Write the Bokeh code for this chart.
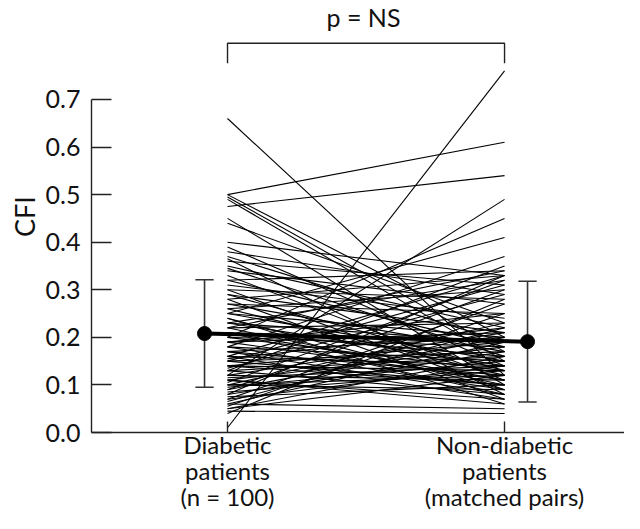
from bokeh.plotting import figure
from bokeh.models import FixedTicker, Range1d, CustomJSTickFormatter
from bokeh.embed import file_html
from bokeh.resources import INLINE
from bokeh.core.properties import value

# ---- data ----
groups = ["Diabetic\npatients\n(n = 100)", "Non-diabetic\npatients\n(matched pairs)"]
group_x = [0, 1]
y_ticks = [0.0, 0.1, 0.2, 0.3, 0.4, 0.5, 0.6, 0.7]

diabetic = [0.66, 0.50, 0.50, 0.495, 0.49, 0.475, 0.45, 0.44, 0.40, 0.39,
            0.38, 0.37, 0.365, 0.36, 0.35, 0.345, 0.34, 0.33, 0.32, 0.32,
            0.31, 0.30, 0.30, 0.29, 0.29, 0.28, 0.28, 0.27, 0.27, 0.26,
            0.26, 0.25, 0.25, 0.25, 0.24, 0.24, 0.23, 0.23, 0.23, 0.22,
            0.22, 0.22, 0.21, 0.21, 0.21, 0.20, 0.20, 0.20, 0.19, 0.19,
            0.19, 0.18, 0.18, 0.18, 0.17, 0.17, 0.17, 0.16, 0.16, 0.16,
            0.155, 0.15, 0.15, 0.15, 0.14, 0.14, 0.14, 0.135, 0.13, 0.13,
            0.13, 0.12, 0.12, 0.12, 0.115, 0.11, 0.11, 0.11, 0.105, 0.10,
            0.10, 0.10, 0.095, 0.09, 0.09, 0.085, 0.08, 0.08, 0.075, 0.07,
            0.07, 0.065, 0.06, 0.06, 0.055, 0.05, 0.05, 0.045, 0.04, 0.01]
non_diabetic = [0.12, 0.61, 0.20, 0.17, 0.15, 0.54, 0.10, 0.23, 0.33, 0.14,
                0.29, 0.19, 0.08, 0.31, 0.22, 0.16, 0.27, 0.11, 0.34, 0.18,
                0.24, 0.09, 0.28, 0.13, 0.21, 0.33, 0.07, 0.17, 0.25, 0.12,
                0.30, 0.41, 0.15, 0.20, 0.06, 0.09, 0.14, 0.32, 0.19, 0.34,
                0.10, 0.23, 0.16, 0.11, 0.08, 0.45, 0.18, 0.13, 0.25, 0.11,
                0.21, 0.37, 0.15, 0.09, 0.08, 0.12, 0.20, 0.33, 0.14, 0.07,
                0.22, 0.31, 0.17, 0.10, 0.10, 0.13, 0.19, 0.29, 0.08, 0.16,
                0.35, 0.49, 0.11, 0.21, 0.14, 0.07, 0.06, 0.18, 0.32, 0.12,
                0.23, 0.09, 0.15, 0.30, 0.20, 0.13, 0.33, 0.17, 0.10, 0.27,
                0.14, 0.22, 0.19, 0.05, 0.25, 0.12, 0.16, 0.04, 0.28, 0.76]

mean_x = [-0.083, 1.083]
mean_cfi = [0.208, 0.191]
sd_cfi = [0.113, 0.127]

FONT = "Lato"
INK = "#111111"
AXC = "#222222"

p = figure(width=624, height=513, output_backend="svg", toolbar_location=None,
           x_range=Range1d(-0.491, 1.433), y_range=Range1d(0.0, 0.908),
           min_border_left=91, min_border_right=0, min_border_top=0,
           min_border_bottom=81)
p.outline_line_color = None
p.grid.visible = False
p.background_fill_color = "white"

# paired lines
xs = [[group_x[0], group_x[1]] for _ in diabetic]
ys = [[a, b] for a, b in zip(diabetic, non_diabetic)]
p.multi_line(xs=xs, ys=ys, line_color="black", line_width=1.1)

# error bars (mean +/- SD)
lo = [m - s for m, s in zip(mean_cfi, sd_cfi)]
hi = [m + s for m, s in zip(mean_cfi, sd_cfi)]
cap = 0.033
p.segment(x0=mean_x, y0=lo, x1=mean_x, y1=hi, line_color="#333333", line_width=1.6)
p.segment(x0=[x - cap for x in mean_x], y0=lo, x1=[x + cap for x in mean_x], y1=lo,
          line_color="#333333", line_width=1.6)
p.segment(x0=[x - cap for x in mean_x], y0=hi, x1=[x + cap for x in mean_x], y1=hi,
          line_color="#333333", line_width=1.6)

# mean line and markers
p.line(x=mean_x, y=mean_cfi, line_color="black", line_width=4)
p.scatter(x=mean_x, y=mean_cfi, size=14, fill_color="black", line_color="black")

# significance bracket
br_top = 0.818
br_bot = 0.776
p.line(x=[group_x[0], group_x[0], group_x[1], group_x[1]],
       y=[br_bot, br_top, br_top, br_bot], line_color=AXC, line_width=1.4)
p.text(x=[0.491], y=[0.874], text=["p = NS"], text_font=value(FONT),
       text_font_size="25px", text_align="center", text_baseline="alphabetic",
       text_color=INK)

# y axis
ya = p.yaxis[0]
ya.ticker = FixedTicker(ticks=y_ticks)
ya.bounds = (0, 0.7)
ya.major_tick_in = 20
ya.major_tick_out = 0
ya.minor_tick_in = 0
ya.minor_tick_out = 0
ya.major_label_standoff = 11
ya.major_label_text_font = FONT
ya.major_label_text_font_size = "25px"
ya.major_label_text_color = INK
ya.axis_label = "CFI"
ya.axis_label_standoff = 2
ya.axis_label_text_font = FONT
ya.axis_label_text_font_size = "27px"
ya.axis_label_text_font_style = "normal"
ya.axis_label_text_color = INK
ya.axis_line_color = AXC
ya.major_tick_line_color = AXC
ya.axis_line_width = 1.4
ya.major_tick_line_width = 1.4
ya.formatter = CustomJSTickFormatter(code="return tick.toFixed(1);")

# x axis
xa = p.xaxis[0]
xa.ticker = FixedTicker(ticks=group_x)
xa.major_label_overrides = {gx: g for gx, g in zip(group_x, groups)}
xa.major_tick_in = 11
xa.major_tick_out = 0
xa.minor_tick_in = 0
xa.minor_tick_out = 0
xa.major_label_standoff = -3
xa.major_label_text_font = FONT
xa.major_label_text_font_size = "24px"
xa.major_label_text_color = INK
xa.major_label_text_line_height = 0.9
xa.axis_line_color = AXC
xa.major_tick_line_color = AXC
xa.axis_line_width = 1.4
xa.major_tick_line_width = 1.4

open("out.html", "w").write(file_html(p, INLINE))
